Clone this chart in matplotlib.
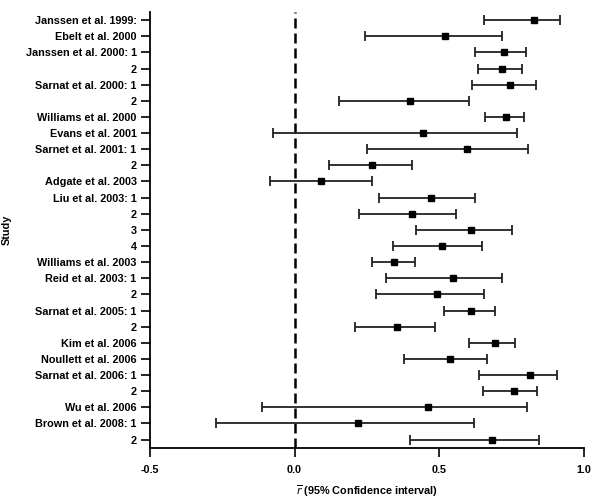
import matplotlib
matplotlib.use("Agg")
import matplotlib.pyplot as plt

plt.rcParams['font.family'] = ['Liberation Sans', 'DejaVu Sans']

studies = [
    "Janssen et al. 1999:", "Ebelt et al. 2000", "Janssen et al. 2000: 1", "2",
    "Sarnat et al. 2000: 1", "2", "Williams et al. 2000", "Evans et al. 2001",
    "Sarnet et al. 2001: 1", "2", "Adgate et al. 2003", "Liu et al. 2003: 1",
    "2", "3", "4", "Williams et al. 2003", "Reid et al. 2003: 1", "2",
    "Sarnat et al. 2005: 1", "2", "Kim et al. 2006", "Noullett et al. 2006",
    "Sarnat et al. 2006: 1", "2", "Wu et al. 2006", "Brown et al. 2008: 1", "2",
]
r_mean = [0.827, 0.520, 0.725, 0.718, 0.744, 0.400, 0.732, 0.442, 0.597,
          0.269, 0.093, 0.472, 0.404, 0.611, 0.511, 0.343, 0.546, 0.491,
          0.611, 0.354, 0.692, 0.537, 0.812, 0.759, 0.461, 0.218, 0.682]
ci_low = [0.653, 0.245, 0.624, 0.632, 0.614, 0.152, 0.657, -0.073, 0.249,
          0.119, -0.084, 0.291, 0.221, 0.418, 0.340, 0.268, 0.317, 0.283,
          0.516, 0.208, 0.603, 0.379, 0.636, 0.652, -0.113, -0.273, 0.400]
ci_high = [0.917, 0.718, 0.801, 0.784, 0.835, 0.601, 0.791, 0.769, 0.808,
           0.407, 0.266, 0.622, 0.557, 0.752, 0.649, 0.415, 0.715, 0.656,
           0.694, 0.486, 0.763, 0.666, 0.908, 0.837, 0.804, 0.620, 0.845]
xticks = [-0.5, 0.0, 0.5, 1.0]

fig = plt.figure(figsize=(6.04, 5.03), dpi=100)
ax = fig.add_axes([0.248, 0.110, 0.719, 0.866])

ypos = list(range(len(studies)))
err = [[m - lo for m, lo in zip(r_mean, ci_low)],
       [hi - m for m, hi in zip(r_mean, ci_high)]]

# reference line at zero
ax.axvline(0, color='black', linestyle=(0, (4, 2)), linewidth=1.8, zorder=1)

ax.errorbar(r_mean, ypos, xerr=err, fmt='s', color='black', ecolor='#222222',
            markersize=4.2, elinewidth=1.3, capsize=3.3, capthick=1.3, zorder=3)

ax.set_xlim(-0.5, 1.0)
ax.set_ylim(26.5, -0.5)
ax.set_xticks(xticks)
ax.set_xticklabels([f"{t:.1f}" for t in xticks], fontweight='bold', fontsize=7.8)
ax.set_yticks(ypos)
ax.set_yticklabels(studies, fontweight='bold', fontsize=7.8)

ax.spines['top'].set_visible(False)
ax.spines['right'].set_visible(False)
for s in ('left', 'bottom'):
    ax.spines[s].set_linewidth(1.3)
ax.tick_params(axis='both', direction='out', length=6.5, width=1.2, pad=3)
ax.tick_params(axis='x', pad=6)

ax.set_xlabel(r'$\overline{r}$ (95% Confidence interval)', fontweight='bold',
              fontsize=7.8, labelpad=6)
ax.set_ylabel('Study', fontweight='bold', fontsize=7.8)
ax.yaxis.set_label_coords(-0.318, 0.5)

fig.savefig('out.png', dpi=100)
